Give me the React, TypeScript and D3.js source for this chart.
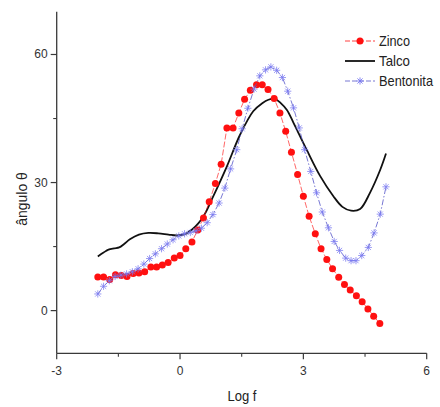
import React from "react";
import * as d3 from "d3";

const zincoX = [-2.0, -1.86, -1.71, -1.57, -1.43, -1.29, -1.14, -1.0, -0.86, -0.71, -0.57, -0.43, -0.29, -0.14, 0.0, 0.14, 0.29, 0.43, 0.57, 0.71, 0.86, 1.0, 1.14, 1.29, 1.43, 1.57, 1.71, 1.86, 2.0, 2.14, 2.29, 2.43, 2.57, 2.71, 2.86, 3.0, 3.14, 3.29, 3.43, 3.57, 3.71, 3.86, 4.0, 4.14, 4.29, 4.43, 4.57, 4.71, 4.86];
const zincoY = [7.9, 7.9, 7.3, 8.4, 8.2, 8.0, 8.7, 8.8, 9.1, 10.2, 10.2, 10.7, 11.3, 12.3, 12.9, 14.5, 16.1, 18.9, 21.7, 25.5, 29.8, 34.3, 42.8, 42.8, 46.3, 49.5, 51.6, 52.9, 52.9, 51.8, 49.7, 46.3, 42.0, 37.1, 31.9, 26.8, 22.1, 18.0, 14.5, 12.0, 9.8, 7.8, 6.1, 4.8, 3.5, 2.1, 0.4, -1.3, -3.0];

const talcoX = [-2.0, -1.86, -1.74, -1.6, -1.48, -1.36, -1.22, -1.0, -0.77, -0.53, -0.28, -0.08, 0.12, 0.28, 0.45, 0.6, 0.81, 1.14, 1.46, 1.78, 2.0, 2.15, 2.31, 2.45, 2.6, 2.76, 3.08, 3.41, 3.73, 3.95, 4.16, 4.38, 4.62, 4.87, 5.01];
const talcoY = [12.7, 13.6, 14.3, 14.6, 14.8, 15.6, 16.7, 17.8, 18.2, 18.1, 17.8, 17.6, 17.9, 18.9, 20.5, 22.6, 26.8, 33.8, 41.2, 46.7, 48.6, 49.4, 49.6, 48.6, 47.0, 44.0, 37.7, 31.5, 26.8, 24.3, 23.4, 23.8, 27.6, 33.0, 36.8];

const bentX = [-2.0, -1.86, -1.72, -1.58, -1.44, -1.3, -1.16, -1.02, -0.88, -0.74, -0.6, -0.45, -0.31, -0.17, -0.03, 0.11, 0.25, 0.39, 0.52, 0.66, 0.8, 0.95, 1.09, 1.23, 1.38, 1.51, 1.65, 1.8, 1.94, 2.08, 2.21, 2.35, 2.49, 2.62, 2.76, 2.9, 3.03, 3.18, 3.32, 3.46, 3.61, 3.75, 3.88, 4.03, 4.16, 4.28, 4.42, 4.58, 4.72, 4.87, 5.01];
const bentY = [3.9, 5.7, 7.0, 8.0, 8.3, 8.6, 9.1, 9.8, 10.9, 12.2, 13.3, 14.5, 15.6, 16.6, 17.5, 18.0, 18.3, 18.7, 19.3, 20.6, 22.5, 25.2, 28.7, 33.2, 37.7, 42.6, 47.4, 51.9, 55.0, 56.4, 57.1, 56.3, 54.6, 51.4, 47.5, 42.8, 37.7, 32.6, 27.6, 23.1, 19.4, 16.2, 14.1, 12.3, 11.7, 11.7, 12.9, 14.8, 18.2, 22.6, 29.0];

const xMajor = [-3, 0, 3, 6];
const xMinor = [-1.5, 1.5, 4.5];
const yMajor = [0, 30, 60];
const yMinor = [15, 45];
const legendNames = ["Zinco", "Talco", "Bentonita"];

const W = 440, H = 407;
const x = d3.scaleLinear().domain([-3, 6]).range([56.7, 426.7]);
const y = d3.scaleLinear().domain([-10, 70]).range([353.3, 11.8]);

const RED = "#ff1010";
const BLUE_LINE = "#5555c8";
const BLUE_STAR = "#7a7af0";
const FONT = "'Liberation Sans', Arial, sans-serif";

function starPath(cx: number, cy: number, r: number) {
  const d = r * 0.72;
  return `M${cx - r},${cy}L${cx + r},${cy}M${cx},${cy - r}L${cx},${cy + r}M${cx - d},${cy - d}L${cx + d},${cy + d}M${cx - d},${cy + d}L${cx + d},${cy - d}`;
}

export default function App() {
  const line = d3.line<[number, number]>().x(d => x(d[0])).y(d => y(d[1]));
  const smooth = d3.line<[number, number]>().x(d => x(d[0])).y(d => y(d[1])).curve(d3.curveCatmullRom.alpha(0.5));
  const zinco: [number, number][] = zincoX.map((v, i) => [v, zincoY[i]]);
  const talco: [number, number][] = talcoX.map((v, i) => [v, talcoY[i]]);
  const bent: [number, number][] = bentX.map((v, i) => [v, bentY[i]]);
  const axisColor = "#3a3a3a";
  const x0 = x.range()[0], x1 = x.range()[1];
  const yb = y.range()[0], yt = y.range()[1];
  const lx0 = 345, lx1 = 375, ly = [41, 61, 81];
  const legendW = [31, 31, 54];

  return (
    <svg width={W} height={H} style={{ position: "absolute", left: 0, top: 0, background: "#fff" }}>
      <rect width={W} height={H} fill="#fff" />
      {/* axes */}
      <line x1={x0} x2={x0} y1={yt} y2={yb} stroke={axisColor} strokeWidth={1.3} />
      <line x1={x0} x2={x1} y1={yb} y2={yb} stroke={axisColor} strokeWidth={1.3} />
      {xMajor.map(t => (
        <g key={"xM" + t}>
          <line x1={x(t)} x2={x(t)} y1={yb} y2={yb + 6} stroke={axisColor} strokeWidth={1.2} />
          <text x={x(t)} y={yb + 22} textAnchor="middle" fontSize={12} fontFamily={FONT} fill="#333">{t}</text>
        </g>
      ))}
      {xMinor.map(t => (
        <line key={"xm" + t} x1={x(t)} x2={x(t)} y1={yb} y2={yb + 3.5} stroke={axisColor} strokeWidth={1.1} />
      ))}
      {yMajor.map(t => (
        <g key={"yM" + t}>
          <line x1={x0 - 6} x2={x0} y1={y(t)} y2={y(t)} stroke={axisColor} strokeWidth={1.2} />
          <text x={x0 - 9} y={y(t) + 4} textAnchor="end" fontSize={12} fontFamily={FONT} fill="#333">{t}</text>
        </g>
      ))}
      {yMinor.map(t => (
        <line key={"ym" + t} x1={x0 - 3.5} x2={x0} y1={y(t)} y2={y(t)} stroke={axisColor} strokeWidth={1.1} />
      ))}
      <text x={242} y={401} textAnchor="middle" fontSize={15} fontFamily={FONT} fill="#222" textLength={29} lengthAdjust="spacingAndGlyphs">Log f</text>
      <text transform="translate(27,199) rotate(-90)" textAnchor="middle" fontSize={14} fontFamily={FONT} fill="#222">ângulo θ</text>

      {/* Talco */}
      <path d={smooth(talco) || ""} fill="none" stroke="#111" strokeWidth={1.8} />
      {/* Zinco */}
      <path d={line(zinco) || ""} fill="none" stroke={RED} strokeWidth={0.8} strokeDasharray="6,2" opacity={0.8} />
      {zinco.map((d, i) => (
        <circle key={"z" + i} cx={x(d[0])} cy={y(d[1])} r={3.5} fill={RED} />
      ))}
      {/* Bentonita */}
      <path d={line(bent) || ""} fill="none" stroke={BLUE_LINE} strokeWidth={0.8} strokeDasharray="6,2,1.5,2" />
      {bent.map((d, i) => (
        <path key={"b" + i} d={starPath(x(d[0]), y(d[1]), 3.6)} stroke={BLUE_STAR} strokeWidth={0.9} fill="none" opacity={0.85} />
      ))}

      {/* legend */}
      <line x1={lx0} x2={lx1} y1={ly[0]} y2={ly[0]} stroke={RED} strokeWidth={0.8} strokeDasharray="5,2" />
      <circle cx={(lx0 + lx1) / 2} cy={ly[0]} r={3.5} fill={RED} />
      <line x1={lx0} x2={lx1} y1={ly[1]} y2={ly[1]} stroke="#111" strokeWidth={1.8} />
      <line x1={lx0} x2={lx1} y1={ly[2]} y2={ly[2]} stroke={BLUE_LINE} strokeWidth={0.8} strokeDasharray="5,2" />
      <path d={starPath((lx0 + lx1) / 2, ly[2], 3.6)} stroke={BLUE_STAR} strokeWidth={0.9} fill="none" />
      {legendNames.map((n, i) => (
        <text key={n} x={lx1 + 4} y={ly[i] + 5} fontSize={14.5} fontFamily={FONT} fill="#222" textLength={legendW[i]} lengthAdjust="spacingAndGlyphs">{n}</text>
      ))}
    </svg>
  );
}
